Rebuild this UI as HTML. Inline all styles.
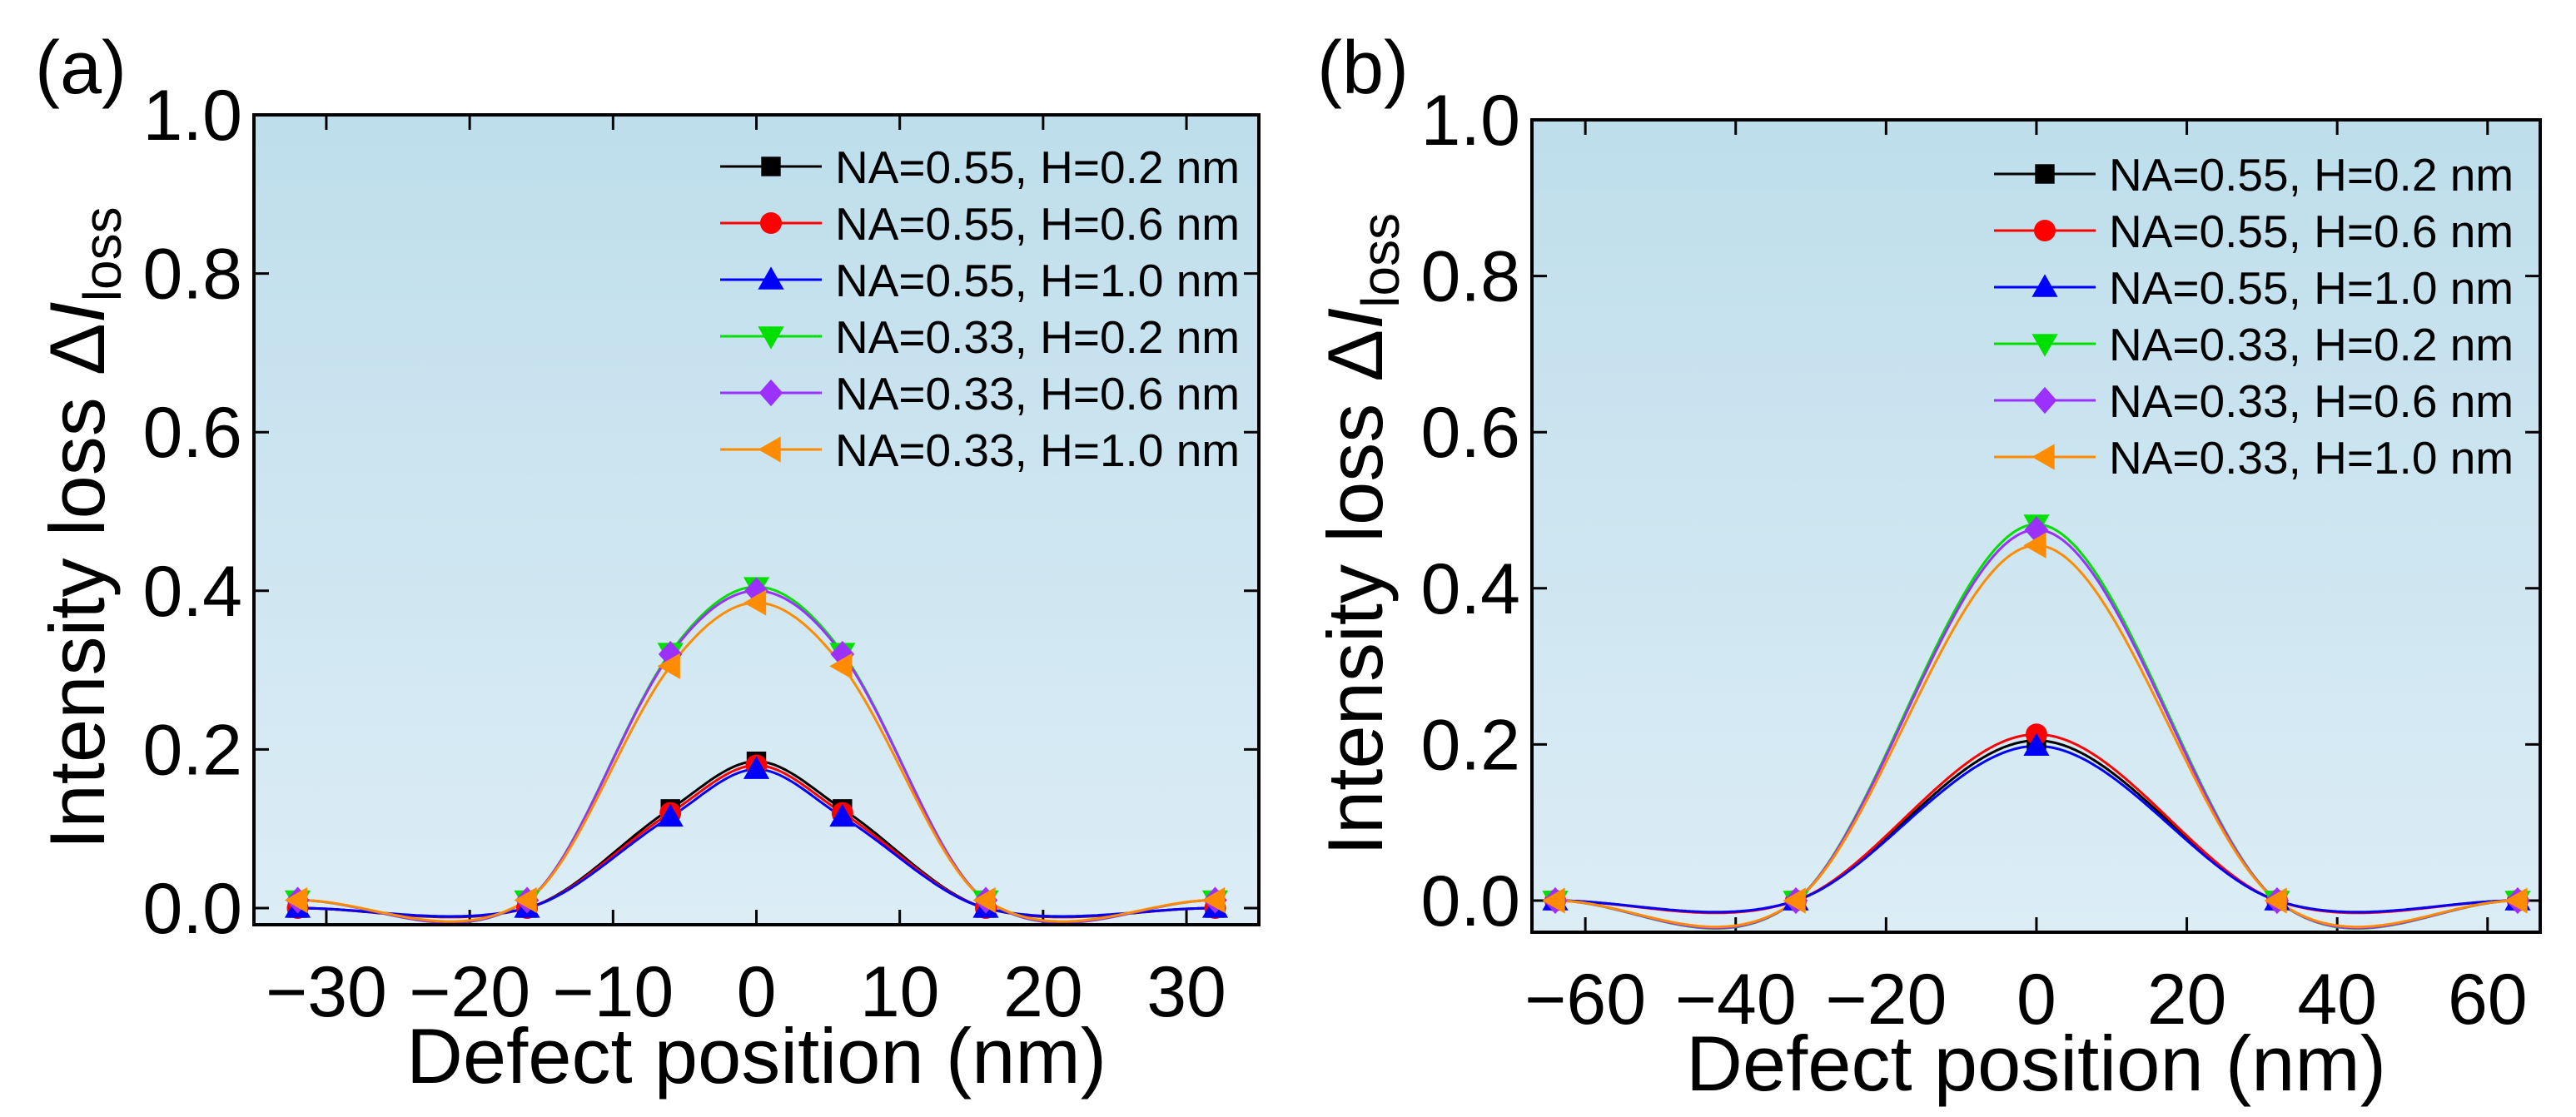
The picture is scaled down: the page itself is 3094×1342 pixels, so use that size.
<!DOCTYPE html>
<html><head><meta charset="utf-8">
<style>
html,body{margin:0;padding:0;background:#fff;}
svg{display:block;font-family:"Liberation Sans",sans-serif;}
</style></head>
<body>
<svg id="fig" width="3094" height="1342" viewBox="0 0 3094 1342" xmlns="http://www.w3.org/2000/svg">
<defs>
<linearGradient id="bg" x1="0" y1="0" x2="0" y2="1">
<stop offset="0" stop-color="#bedeeb"/><stop offset="1" stop-color="#dcedf6"/>
</linearGradient>
</defs>
</svg>
<script>
const NS="http://www.w3.org/2000/svg";
const svg=document.getElementById('fig');
// ---- data ----
const seriesLabels=["NA=0.55, H=0.2 nm","NA=0.55, H=0.6 nm","NA=0.55, H=1.0 nm","NA=0.33, H=0.2 nm","NA=0.33, H=0.6 nm","NA=0.33, H=1.0 nm"];
const seriesColors=["#000000","#ff0000","#0000ff","#00e000","#9b30ff","#ff8c00"];
const seriesMarkers=["square","circle","triangle","invtriangle","diamond","lefttriangle"];
const xA=[-32,-16,-6,0,6,16,32];
const yA0=[0.0,0.0,0.125,0.185,0.125,0.0,0.0];
const yA1=[0.0,0.0,0.12,0.18,0.12,0.0,0.0];
const yA2=[0.0,0.0,0.115,0.175,0.115,0.0,0.0];
const yA3=[0.01,0.01,0.322,0.405,0.322,0.01,0.01];
const yA4=[0.01,0.01,0.32,0.40,0.32,0.01,0.01];
const yA5=[0.01,0.01,0.305,0.385,0.305,0.01,0.01];
const xB=[-64,-32,0,32,64];
const yB0=[0.0,0.0,0.205,0.0,0.0];
const yB1=[0.0,0.0,0.213,0.0,0.0];
const yB2=[0.0,0.0,0.198,0.0,0.0];
const yB3=[0.0,0.0,0.482,0.0,0.0];
const yB4=[0.0,0.0,0.475,0.0,0.0];
const yB5=[0.0,0.0,0.455,0.0,0.0];
const xTicksA=[-30,-20,-10,0,10,20,30];
const xTicksB=[-60,-40,-20,0,20,40,60];
const yTicks=[0,0.2,0.4,0.6,0.8,1.0];

function el(tag,attrs,parent){const e=document.createElementNS(NS,tag);for(const k in attrs)e.setAttribute(k,attrs[k]);(parent||svg).appendChild(e);return e;}

function spline(xs,ys){ // Catmull-Rom style Hermite spline
  const n=xs.length,m=[];
  for(let i=0;i<n;i++){
    if(i==0||i==n-1)m.push(0);
    else m.push((ys[i+1]-ys[i-1])/(xs[i+1]-xs[i-1]));
  }
  return x=>{let i=0;while(i<n-2&&x>xs[i+1])i++;
    const h=xs[i+1]-xs[i],t=(x-xs[i])/h,t2=t*t,t3=t2*t;
    return (2*t3-3*t2+1)*ys[i]+(t3-2*t2+t)*h*m[i]+(-2*t3+3*t2)*ys[i+1]+(t3-t2)*h*m[i+1];};
}

function marker(type,cx,cy,s,color,parent,name){
  let e;
  if(type=="square")e=el('rect',{x:cx-s*0.45,y:cy-s*0.45,width:s*0.9,height:s*0.9,fill:color},parent);
  else if(type=="circle")e=el('circle',{cx:cx,cy:cy,r:s*0.5,fill:color},parent);
  else{let p;
    if(type=="triangle")p=[[0,-0.6],[0.6,0.45],[-0.6,0.45]];
    else if(type=="invtriangle")p=[[0,0.6],[0.6,-0.45],[-0.6,-0.45]];
    else if(type=="diamond")p=[[0,-0.62],[0.55,0],[0,0.62],[-0.55,0]];
    else p=[[-0.6,0],[0.45,-0.6],[0.45,0.6]];
    e=el('polygon',{points:p.map(q=>(cx+q[0]*s)+','+(cy+q[1]*s)).join(' '),fill:color},parent);}
  
  
  return e;
}

function panel(cfg){
  const g=el('g',{});
  
  
  const X=v=>cfg.x0+(v-cfg.xmin)/(cfg.xmax-cfg.xmin)*(cfg.x1-cfg.x0);
  const Y=v=>cfg.y0-(v-cfg.ymin)/(cfg.ymax-cfg.ymin)*(cfg.y0-cfg.y1);
  const bg=el('rect',{x:cfg.x0,y:cfg.y1,width:cfg.x1-cfg.x0,height:cfg.y0-cfg.y1,fill:'url(#bg)'},g);
  
  
  const clipId='clip'+cfg.id;
  const cp=el('clipPath',{id:clipId},g);el('rect',{x:cfg.x0,y:cfg.y1,width:cfg.x1-cfg.x0,height:cfg.y0-cfg.y1},cp);
  cfg.xticks.forEach(t=>{
    el('line',{x1:X(t),x2:X(t),y1:cfg.y0,y2:cfg.y0-18,stroke:'#000','stroke-width':3},g);
    el('line',{x1:X(t),x2:X(t),y1:cfg.y1,y2:cfg.y1+18,stroke:'#000','stroke-width':3},g);
    const tx=el('text',{x:X(t),y:cfg.y0+110,'font-size':86,'text-anchor':'middle'},g);
    tx.textContent=(t<0?'\u2212':'')+Math.abs(t);
    
    
  });
  yTicks.forEach(t=>{
    el('line',{x1:cfg.x0,x2:cfg.x0+18,y1:Y(t),y2:Y(t),stroke:'#000','stroke-width':3},g);
    el('line',{x1:cfg.x1,x2:cfg.x1-18,y1:Y(t),y2:Y(t),stroke:'#000','stroke-width':3},g);
    const tx=el('text',{x:cfg.x0-14,y:Y(t)+30,'font-size':86,'text-anchor':'end'},g);
    tx.textContent=t.toFixed(1);
    
    
  });
  const sg=el('g',{'clip-path':'url(#'+clipId+')'},g);
  cfg.ys.forEach((ys,k)=>{
    const f=spline(cfg.xs,ys);let d='';
    for(let x=cfg.xs[0];x<=cfg.xs[cfg.xs.length-1]+1e-9;x+=0.25){d+=(d?'L':'M')+X(x).toFixed(1)+','+Y(f(x)).toFixed(1);}
    const p=el('path',{d:d,fill:'none',stroke:seriesColors[k],'stroke-width':3},sg);
    
    
  });
  cfg.ys.forEach((ys,k)=>{
    ys.forEach((v,i)=>marker(seriesMarkers[k],X(cfg.xs[i]),Y(v),26,seriesColors[k],g,'data-point'));
  });
  const fr=el('rect',{x:cfg.x0,y:cfg.y1,width:cfg.x1-cfg.x0,height:cfg.y0-cfg.y1,fill:'none',stroke:'#000','stroke-width':4},g);
  
  
  seriesLabels.forEach((lab,k)=>{
    const ly=cfg.legY+k*cfg.legDy;
    const lg=el('g',{},g);
    
    
    el('line',{x1:cfg.legX,x2:cfg.legX+122,y1:ly,y2:ly,stroke:seriesColors[k],'stroke-width':3},lg);
    marker(seriesMarkers[k],cfg.legX+61,ly,26,seriesColors[k],lg,'legend-marker');
    const t=el('text',{x:cfg.legX+138,y:ly+20,'font-size':55},lg);t.textContent=lab;
  });
  const xt=el('text',{x:(cfg.x0+cfg.x1)/2,y:cfg.y0+190,'font-size':94,'text-anchor':'middle'},g);
  xt.textContent='Defect position (nm)';
  
  
  const yt=el('text',{transform:'translate('+cfg.yTitleX+','+((cfg.y0+cfg.y1)/2+10)+') rotate(-90)','font-size':94,'text-anchor':'middle'},g);
  yt.innerHTML='Intensity loss \u0394<tspan font-style="italic">I</tspan><tspan font-size="64" dy="20">loss</tspan>';
  
  
  const pl=el('text',{x:cfg.labX,y:112,'font-size':90},g);
  pl.textContent=cfg.label;
  
  
}

panel({id:'a',name:'panel-a',x0:305,x1:1512,y1:138,y0:1111,xmin:-35.05,xmax:35.05,ymin:-0.021,ymax:1.0,
  xs:xA,ys:[yA0,yA1,yA2,yA3,yA4,yA5],xticks:xTicksA,legX:865,legY:200,legDy:68,yTitleX:125,labX:42,label:'(a)'});
panel({id:'b',name:'panel-b',x0:1840,x1:3051,y1:144,y0:1120,xmin:-67.1,xmax:67.0,ymin:-0.0405,ymax:1.0,
  xs:xB,ys:[yB0,yB1,yB2,yB3,yB4,yB5],xticks:xTicksB,legX:2395,legY:209,legDy:68,yTitleX:1660,labX:1582,label:'(b)'});
</script>
</body></html>
